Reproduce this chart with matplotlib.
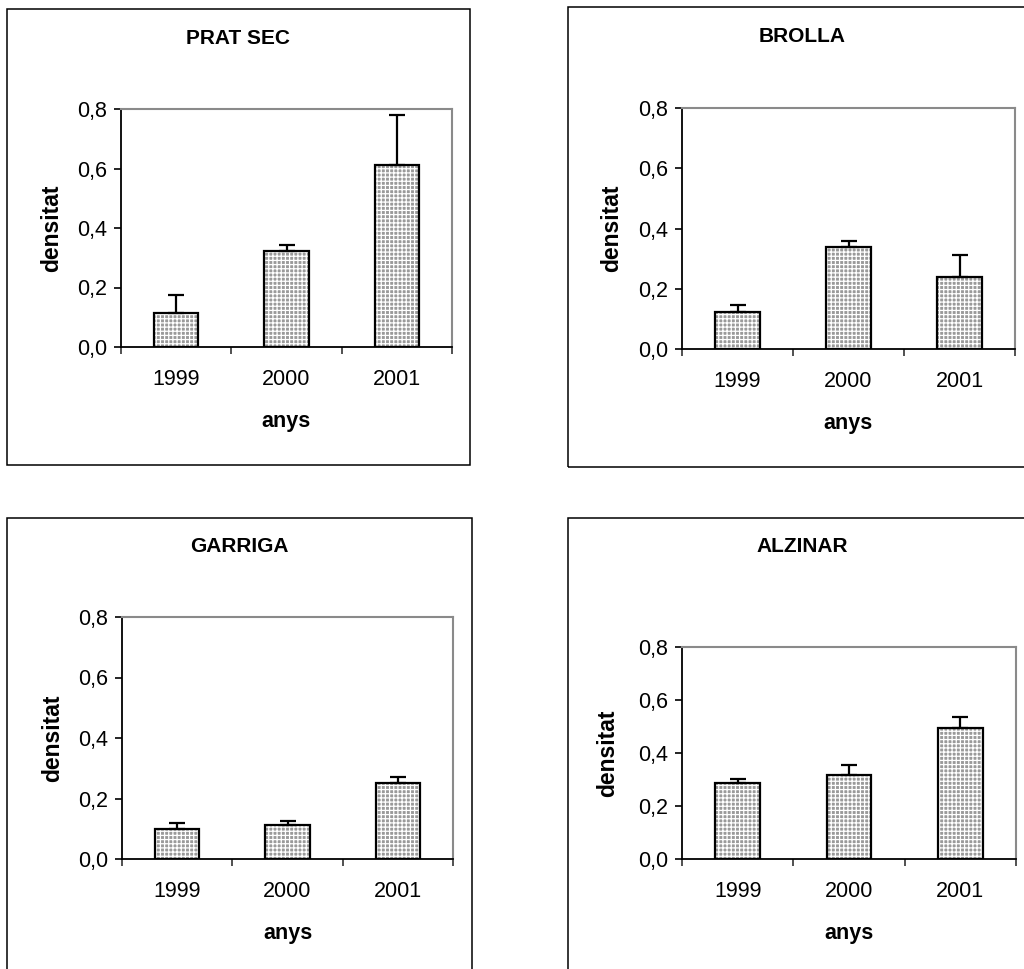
import matplotlib
matplotlib.use("Agg")
import matplotlib.pyplot as plt
from matplotlib.patches import Rectangle
from matplotlib.ticker import FuncFormatter
import numpy as np

plt.rcParams['font.family'] = ['Liberation Sans', 'DejaVu Sans']
plt.rcParams['hatch.linewidth'] = 0.9

# Data
years = ["1999", "2000", "2001"]
sites = ["PRAT SEC", "BROLLA", "GARRIGA", "ALZINAR"]
prat_sec_mean = [0.114, 0.323, 0.612]
prat_sec_err = [0.061, 0.020, 0.168]
brolla_mean = [0.123, 0.339, 0.239]
brolla_err = [0.023, 0.019, 0.073]
garriga_mean = [0.098, 0.113, 0.250]
garriga_err = [0.022, 0.013, 0.022]
alzinar_mean = [0.285, 0.316, 0.496]
alzinar_err = [0.016, 0.038, 0.040]
y_ticks = [0.0, 0.2, 0.4, 0.6, 0.8]

means = [prat_sec_mean, brolla_mean, garriga_mean, alzinar_mean]
errs = [prat_sec_err, brolla_err, garriga_err, alzinar_err]

W, H = 1024, 969
fig = plt.figure(figsize=(W / 100, H / 100), dpi=100)

# layout in pixels: plot area (left, right, top, bottom), frame (left, top, right, bottom)
plot_px = [(121, 452, 109, 347), (682, 1015, 108, 349),
           (122, 453, 617, 859), (682, 1016, 647, 859)]
frame_px = [(7, 9, 470, 465), (568, 7, 1036, 467),
            (7, 518, 472, 1000), (568, 518, 1036, 1000)]
title_y_px = [39, 37, 547, 547]
ylabel_off_px = [69, 70, 69, 74]

TICK_FS = 15.5
TITLE_FS = 15
YLABEL_FS = 16.5
XLABEL_FS = 15.5


def fx(x):
    return x / W


def fy(y):
    return 1 - y / H


comma = FuncFormatter(lambda v, p: f"{v:.1f}".replace(".", ","))

for i in range(4):
    l, r, t, b = plot_px[i]
    ax = fig.add_axes([fx(l), fy(b), fx(r) - fx(l), fy(t) - fy(b)])
    x = np.arange(len(years)) + 0.5
    # stippled fill
    ax.bar(x, means[i], width=0.4, color="#9a9a9a", hatch="++++",
           edgecolor="white", linewidth=0, zorder=2)
    ax.bar(x, means[i], width=0.4, fill=False, edgecolor="black",
           linewidth=1.6, zorder=3)
    ax.errorbar(x, means[i], yerr=[np.zeros(len(years)), errs[i]],
                fmt="none", ecolor="black", elinewidth=1.6, capsize=5.5,
                capthick=1.6, zorder=4)
    ax.set_xlim(0, 3)
    ax.set_ylim(0, 0.8)
    ax.set_yticks(y_ticks)
    ax.yaxis.set_major_formatter(comma)
    ax.set_xticks([0, 1, 2, 3])
    ax.set_xticklabels([])
    ax.set_xticks(x, minor=True)
    ax.set_xticklabels(years, minor=True)
    ax.tick_params(axis="x", which="major", length=5, width=1.2,
                   direction="out", color="#333333")
    ax.tick_params(axis="x", which="minor", length=0, pad=16,
                   labelsize=TICK_FS)
    ax.tick_params(axis="y", length=5, width=1.2, direction="out",
                   pad=5, labelsize=TICK_FS)
    for s in ("left", "bottom"):
        ax.spines[s].set_color("black")
        ax.spines[s].set_linewidth(1.3)
    for s in ("top", "right"):
        ax.spines[s].set_color("#8a8a8a")
        ax.spines[s].set_linewidth(1.5)

    fl, ft, fr, fb = frame_px[i]
    fig.add_artist(Rectangle((fx(fl), fy(fb)), fx(fr) - fx(fl), fy(ft) - fy(fb),
                             transform=fig.transFigure, fill=False,
                             edgecolor="black", linewidth=1.1, clip_on=False))
    fig.text(fx((fl + fr) / 2), fy(title_y_px[i]), sites[i],
             ha="center", va="center", fontsize=TITLE_FS, fontweight="bold")
    fig.text(fx(l - ylabel_off_px[i]), fy((t + b) / 2), "densitat",
             rotation=90, ha="center", va="center", fontsize=YLABEL_FS,
             fontweight="bold")
    fig.text(fx((l + r) / 2), fy(b + 75), "anys", ha="center", va="center",
             fontsize=XLABEL_FS, fontweight="bold")

fig.savefig("out.png", dpi=100, facecolor="white")
